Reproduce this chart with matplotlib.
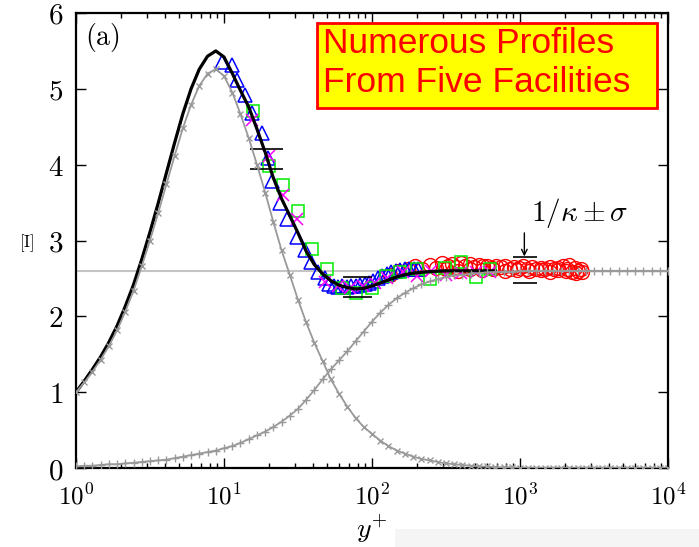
import matplotlib
matplotlib.use("Agg")
import matplotlib.pyplot as plt
from matplotlib.patches import Rectangle

plt.rcParams['mathtext.fontset'] = 'cm'

# ---------------- data ----------------
curve_yplus = [1.0, 1.14, 1.29, 1.47, 1.67, 1.9, 2.15, 2.45, 2.78, 3.16, 3.59, 4.08, 4.64, 5.27, 5.99,
               6.81, 7.74, 8.8, 10, 11.4, 12.9, 14.7, 16.7, 19, 21.5, 24.5, 27.8, 31.6, 35.9, 40.8,
               46.4, 52.7, 59.9, 68.1, 77.4, 88, 100, 114, 129, 147, 167, 190, 215, 245, 278, 316,
               359, 408, 464, 527, 599, 681, 774, 880, 1000, 1136, 1292, 1468, 1668, 1896, 2154,
               2448, 2783, 3162, 3594, 4084, 4642, 5275, 5995, 6813, 7743, 8799, 10000]

inner_curve = [1.00, 1.13, 1.27, 1.43, 1.61, 1.82, 2.06, 2.34, 2.66, 3.00, 3.36, 3.74, 4.12, 4.48, 4.79,
               5.04, 5.20, 5.26, 5.17,
               4.95, 4.67, 4.35, 4.00, 3.63, 3.25, 2.87, 2.55, 2.22, 1.92, 1.65, 1.41, 1.17, 0.98,
               0.81, 0.66, 0.54, 0.45,
               0.36, 0.29, 0.23, 0.19, 0.15, 0.12, 0.10, 0.08, 0.06, 0.05, 0.04, 0.03, 0.02, 0.02,
               0.01, 0.01, 0.01, 0.00,
               0, 0, 0, 0, 0, 0, 0, 0, 0, 0, 0, 0, 0, 0, 0, 0, 0, 0]

outer_curve = [0.02, 0.03, 0.03, 0.04, 0.05, 0.05, 0.06, 0.07, 0.08, 0.09, 0.10, 0.11, 0.13, 0.15, 0.17,
               0.19, 0.21, 0.23, 0.26,
               0.29, 0.33, 0.38, 0.43, 0.48, 0.54, 0.61, 0.69, 0.78, 0.90, 1.03, 1.17, 1.30, 1.42,
               1.54, 1.67, 1.80, 1.93,
               2.05, 2.15, 2.24, 2.31, 2.37, 2.42, 2.46, 2.49, 2.52, 2.54, 2.55, 2.56, 2.57, 2.58,
               2.585, 2.59, 2.59, 2.595,
               2.6, 2.6, 2.6, 2.6, 2.6, 2.6, 2.6, 2.6, 2.6, 2.6, 2.6, 2.6, 2.6, 2.6, 2.6, 2.6, 2.6, 2.6]

composite_curve = [1.00, 1.15, 1.30, 1.47, 1.66, 1.88, 2.13, 2.42, 2.75, 3.11, 3.49, 3.89, 4.29, 4.67,
                   5.00, 5.26, 5.43, 5.50, 5.42,
                   5.20, 4.98, 4.76, 4.47, 4.16, 3.83, 3.55, 3.33, 3.10, 2.86, 2.68, 2.56, 2.47, 2.41,
                   2.38, 2.36, 2.37, 2.40,
                   2.44, 2.48, 2.52, 2.55, 2.57, 2.58, 2.59, 2.595, 2.60, 2.60, 2.60, 2.60, 2.60,
                   2.60, 2.60]

kappa_inv = 2.6

tri_yplus = [9.7, 11.3, 12.2, 13.9, 15.4, 18.0, 19.9, 21.0, 23.9, 26.7, 30.9, 35.2, 38.9, 43.3, 47.9,
             51.3, 55.0, 58.9, 63.1, 67.6, 72.4, 77.6, 83.2, 89.1, 95.5, 102, 110, 117, 126, 135,
             145, 155, 166, 178, 191, 204]
tri_vals = [5.36, 5.32, 5.12, 4.92, 4.68, 4.42, 4.09, 3.78, 3.50, 3.28, 3.05, 2.88, 2.71, 2.58, 2.51,
            2.42, 2.40, 2.39, 2.40, 2.39, 2.40, 2.40, 2.41, 2.42, 2.44, 2.47, 2.50, 2.53, 2.56, 2.58,
            2.60, 2.61, 2.62, 2.62, 2.63, 2.63]

sq_yplus = [15.7, 20.0, 24.9, 31.5, 39.5, 49.3, 62.4, 78.0, 99.5, 124, 155, 200, 245, 309, 398, 501, 631]
sq_vals = [4.71, 3.98, 3.73, 3.39, 2.89, 2.62, 2.38, 2.31, 2.38, 2.53, 2.59, 2.62, 2.49, 2.64, 2.71,
           2.52, 2.62]

cross_yplus = [15.4, 20.0, 25.1, 30.9, 47.9, 58.9, 70.8, 87.1, 105, 126, 162, 200, 251, 316, 398, 501, 631]
cross_vals = [4.59, 4.11, 3.60, 3.28, 2.45, 2.40, 2.38, 2.40, 2.44, 2.50, 2.58, 2.53, 2.60, 2.55,
              2.57, 2.58, 2.59]

circ_yplus = [132, 151, 174, 195, 219, 245, 269, 295, 324, 347, 372, 398, 427, 457, 490, 525, 562,
              603, 646, 692, 741, 794, 851, 912, 977, 1047, 1122, 1202, 1288, 1380, 1479, 1585, 1698,
              1820, 1950, 2042, 2138, 2239, 2344, 2455, 2570]
circ_vals = [2.55, 2.60, 2.62, 2.66, 2.63, 2.68, 2.64, 2.70, 2.66, 2.69, 2.65, 2.70, 2.67, 2.69, 2.65,
             2.68, 2.66, 2.67, 2.64, 2.66, 2.65, 2.66, 2.63, 2.65, 2.64, 2.66, 2.63, 2.65, 2.62, 2.64,
             2.63, 2.65, 2.62, 2.64, 2.66, 2.60, 2.68, 2.58, 2.64, 2.60, 2.62]

circ2_yplus = [316, 380, 457, 550, 661, 794, 955, 1148, 1380, 1585, 1820, 2089, 2399, 2630]
circ2_vals = [2.62, 2.60, 2.63, 2.61, 2.62, 2.60, 2.61, 2.60, 2.61, 2.59, 2.61, 2.63, 2.57, 2.59]

bar_left = [15.0, 63.7, 897]
bar_right = [25.0, 100, 1303]
bar_upper = [4.21, 2.52, 2.78]
bar_lower = [3.94, 2.26, 2.44]
arrow_yplus = 1070
arrow_top = 3.10

x_ticks = [1, 10, 100, 1000, 10000]
x_ticklabels = [r'$10^{0}$', r'$10^{1}$', r'$10^{2}$', r'$10^{3}$', r'$10^{4}$']
y_ticks = [0, 1, 2, 3, 4, 5, 6]
y_ticklabels = [r'$0$', r'$1$', r'$2$', r'$3$', r'$4$', r'$5$', r'$6$']

# ---------------- figure ----------------
W, H = 699, 547
fig = plt.figure(figsize=(W / 100, H / 100), dpi=100)
ax = fig.add_axes([76 / W, 1 - 468 / H, 592 / W, 455 / H])
ax.set_xscale('log')

gray = '#999999'
ax.axhline(kappa_inv, color='#c4c4c4', lw=1.5, zorder=1)

ax.plot(circ2_yplus, circ2_vals, ls='none', marker='o', ms=10, mfc='none', mec='#ff0000', mew=1.0, zorder=2)
ax.plot(circ_yplus, circ_vals, ls='none', marker='o', ms=10, mfc='none', mec='#ff0000', mew=1.0, zorder=2)
ax.plot(tri_yplus, tri_vals, ls='none', marker='^', ms=10.5, mfc='none', mec='#0000ff', mew=1.1, zorder=3)
ax.plot(sq_yplus, sq_vals, ls='none', marker='s', ms=9, mfc='none', mec='#00ee00', mew=1.1, zorder=3)
ax.plot(cross_yplus, cross_vals, ls='none', marker='x', ms=8, mec='#ff00ff', mew=1.1, zorder=3)

ax.hlines(bar_upper, bar_left, bar_right, colors='k', lw=1.2, zorder=4)
ax.hlines(bar_lower, bar_left, bar_right, colors='k', lw=1.2, zorder=4)

ax.plot(curve_yplus[:len(composite_curve)], composite_curve, color='k', lw=2.3, zorder=5)
ax.plot(curve_yplus, inner_curve, color=gray, lw=1.3, marker='x', ms=4.5, mew=1.0, zorder=6)
ax.plot(curve_yplus, outer_curve, color=gray, lw=1.3, marker='+', ms=6, mew=1.0, zorder=6)

ax.annotate('', xy=(arrow_yplus, bar_upper[2] + 0.01), xytext=(arrow_yplus, arrow_top),
            arrowprops=dict(arrowstyle='->', lw=1.0, color='k', shrinkA=0, shrinkB=0), zorder=7)
ax.text(2540, 3.36, r'$1/\kappa \pm \sigma$', fontsize=21, ha='center', va='center')

ax.set_xlim(1, 1e4)
ax.set_ylim(0, 6)
ax.set_xticks(x_ticks)
ax.set_xticklabels(x_ticklabels, fontsize=18)
ax.set_yticks(y_ticks)
ax.set_yticklabels(y_ticklabels, fontsize=21)
ax.tick_params(which='both', direction='in', top=True, right=True, width=1.0)
ax.tick_params(which='major', length=7)
ax.tick_params(which='minor', length=3.5)
ax.tick_params(axis='x', which='major', pad=11)
ax.tick_params(axis='y', which='major', pad=9)
for s in ax.spines.values():
    s.set_linewidth(1.6)

ax.set_xlabel(r'$y^{+}$', fontsize=20, labelpad=3)
fig.text(27 / W, 1 - 243 / H, r'$[\mathrm{I}]$', fontsize=12, ha='center', va='center')
fig.text(102 / W, 1 - 37 / H, r'$(\mathrm{a})$', fontsize=20, ha='center', va='center')

# annotation box
box = Rectangle((317 / W, 1 - 108 / H), (657 - 317) / W, (108 - 23) / H, transform=fig.transFigure,
                facecolor='#ffff00', edgecolor='#ff0000', lw=2.0, zorder=10)
fig.add_artist(box)
fig.text(323 / W, 1 - 53 / H, 'Numerous Profiles', fontsize=25.5, color='#ff0000',
         family='Liberation Sans', ha='left', va='baseline', zorder=11)
fig.text(323 / W, 1 - 92 / H, 'From Five Facilities', fontsize=25.5, color='#ff0000',
         family='Liberation Sans', ha='left', va='baseline', zorder=11)

# faint strip at bottom
fig.add_artist(Rectangle((395 / W, 0), (W - 395) / W, 18 / H, transform=fig.transFigure,
                         facecolor='#f5f5f5', edgecolor='none', zorder=0))

fig.savefig('out.png', dpi=100)
